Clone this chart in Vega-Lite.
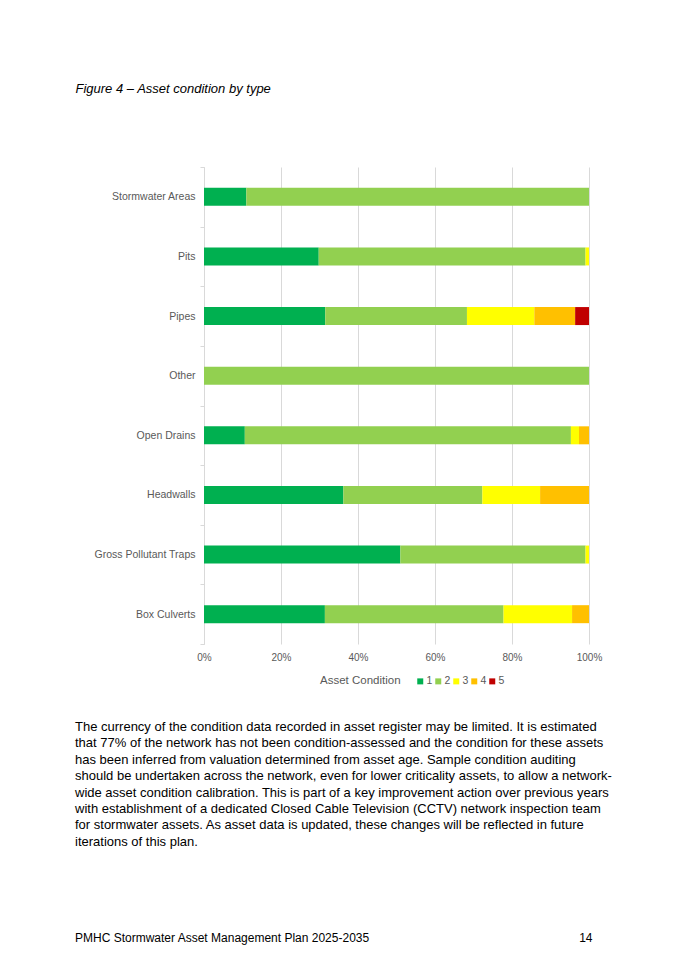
{
  "$schema": "https://vega.github.io/schema/vega-lite/v6.json",
  "width": 385,
  "height": 477,
  "autosize": {"type": "none"},
  "padding": {"left": 204, "top": 167, "right": 96, "bottom": 326},
  "background": "white",
  "config": {"font": "Liberation Sans", "view": {"stroke": null}},
  "title": {
    "text": [
      "The currency of the condition data recorded in asset register may be limited. It is estimated",
      "that 77% of the network has not been condition-assessed and the condition for these assets",
      "has been inferred from valuation determined from asset age. Sample condition auditing",
      "should be undertaken across the network, even for lower criticality assets, to allow a network-",
      "wide asset condition calibration. This is part of a key improvement action over previous years",
      "with establishment of a dedicated Closed Cable Television (CCTV) network inspection team",
      "for stormwater assets. As asset data is updated, these changes will be reflected in future",
      "iterations of this plan."
    ],
    "subtitle": "PMHC Stormwater Asset Management Plan 2025-2035\u00a0\u00a0\u00a0\u00a0\u00a0\u00a0\u00a0\u00a0\u00a0\u00a0\u00a0\u00a0\u00a0\u00a0\u00a0\u00a0\u00a0\u00a0\u00a0\u00a0\u00a0\u00a0\u00a0\u00a0\u00a0\u00a0\u00a0\u00a0\u00a0\u00a0\u00a0\u00a0\u00a0\u00a0\u00a0\u00a0\u00a0\u00a0\u00a0\u00a0\u00a0\u00a0\u00a0\u00a0\u00a0\u00a0\u00a0\u00a0\u00a0\u00a0\u00a0\u00a0\u00a0\u00a0\u00a0\u00a0\u00a0\u00a0\u00a0\u00a0\u00a0\u00a0\u00a014",
    "orient": "bottom",
    "anchor": "start",
    "frame": "group",
    "dx": -129,
    "offset": 34,
    "font": "Liberation Sans",
    "fontSize": 13,
    "fontWeight": "normal",
    "color": "black",
    "lineHeight": 16.4,
    "subtitleFont": "Liberation Sans",
    "subtitleFontSize": 12,
    "subtitleColor": "black",
    "subtitlePadding": 84
  },
  "data": {
    "values": [
      {"type": "Stormwater Areas", "cond": "1", "pct": 11.0},
      {"type": "Stormwater Areas", "cond": "2", "pct": 89.0},
      {"type": "Pits", "cond": "1", "pct": 29.8},
      {"type": "Pits", "cond": "2", "pct": 69.3},
      {"type": "Pits", "cond": "3", "pct": 0.9},
      {"type": "Pipes", "cond": "1", "pct": 31.5},
      {"type": "Pipes", "cond": "2", "pct": 36.8},
      {"type": "Pipes", "cond": "3", "pct": 17.5},
      {"type": "Pipes", "cond": "4", "pct": 10.6},
      {"type": "Pipes", "cond": "5", "pct": 3.6},
      {"type": "Other", "cond": "2", "pct": 100.0},
      {"type": "Open Drains", "cond": "1", "pct": 10.6},
      {"type": "Open Drains", "cond": "2", "pct": 84.7},
      {"type": "Open Drains", "cond": "3", "pct": 2.1},
      {"type": "Open Drains", "cond": "4", "pct": 2.6},
      {"type": "Headwalls", "cond": "1", "pct": 36.2},
      {"type": "Headwalls", "cond": "2", "pct": 36.1},
      {"type": "Headwalls", "cond": "3", "pct": 15.0},
      {"type": "Headwalls", "cond": "4", "pct": 12.7},
      {"type": "Gross Pollutant Traps", "cond": "1", "pct": 51.0},
      {"type": "Gross Pollutant Traps", "cond": "2", "pct": 48.1},
      {"type": "Gross Pollutant Traps", "cond": "3", "pct": 0.9},
      {"type": "Box Culverts", "cond": "1", "pct": 31.4},
      {"type": "Box Culverts", "cond": "2", "pct": 46.4},
      {"type": "Box Culverts", "cond": "3", "pct": 17.8},
      {"type": "Box Culverts", "cond": "4", "pct": 4.4}
    ]
  },
  "mark": {"type": "bar", "size": 18},
  "encoding": {
    "y": {
      "field": "type",
      "type": "nominal",
      "sort": ["Stormwater Areas", "Pits", "Pipes", "Other", "Open Drains", "Headwalls", "Gross Pollutant Traps", "Box Culverts"],
      "scale": {"padding": 0},
      "axis": {
        "title": "Figure 4 \u2013 Asset condition by type",
        "titleAngle": 0,
        "titleAlign": "left",
        "titleBaseline": "middle",
        "titleX": -129,
        "titleY": -79,
        "titleFont": "Liberation Sans",
        "titleFontSize": 13,
        "titleFontStyle": "italic",
        "titleFontWeight": "normal",
        "titleColor": "black",
        "domainColor": "#d9d9d9",
        "tickColor": "#d9d9d9",
        "tickSize": 4,
        "tickBand": "extent",
        "labelPadding": 5,
        "labelColor": "#595959",
        "labelFontSize": 10.5,
        "labelFont": "Liberation Sans"
      }
    },
    "x": {
      "field": "pct",
      "type": "quantitative",
      "stack": "normalize",
      "scale": {"domain": [0, 1]},
      "axis": {
        "title": null,
        "format": ".0%",
        "values": [0, 0.2, 0.4, 0.6, 0.8, 1],
        "labelFlush": false,
        "grid": true,
        "gridColor": "#d9d9d9",
        "domain": false,
        "ticks": false,
        "labelPadding": 8,
        "labelFontSize": 10,
        "labelColor": "#595959",
        "labelFont": "Liberation Sans"
      }
    },
    "color": {
      "field": "cond",
      "type": "nominal",
      "scale": {"domain": ["1", "2", "3", "4", "5"], "range": ["#00b050", "#92d050", "#ffff00", "#ffc000", "#c00000"]},
      "legend": {
        "title": "Asset Condition",
        "orient": "none",
        "legendX": 116,
        "legendY": 509,
        "direction": "horizontal",
        "titleOrient": "left",
        "titleFont": "Liberation Sans",
        "titleFontSize": 11.5,
        "titleFontWeight": "normal",
        "titleColor": "#595959",
        "titlePadding": 14,
        "labelFont": "Liberation Sans",
        "labelFontSize": 10.5,
        "labelColor": "#595959",
        "labelOffset": 1,
        "symbolType": "square",
        "symbolSize": 36,
        "symbolStrokeWidth": 0,
        "columnPadding": 0
      }
    },
    "order": {"field": "cond", "sort": "ascending"}
  }
}
